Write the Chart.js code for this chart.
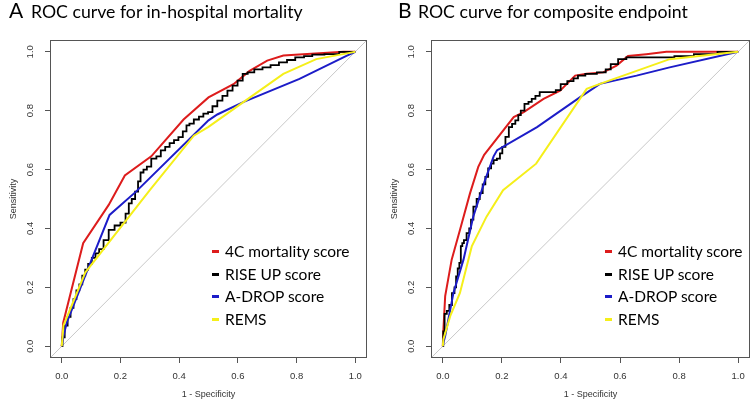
<!DOCTYPE html>
<html>
<head>
<meta charset="utf-8">
<script src="https://cdn.jsdelivr.net/npm/chart.js@4.4.1/dist/chart.umd.min.js"></script>
<style>
  html, body { margin: 0; padding: 0; background: #fff; }
  #wrap { position: relative; width: 756px; height: 408px; overflow: hidden; font-family: Lato, "Open Sans", sans-serif; }
  canvas { position: absolute; top: 0; }
  .letter, .title { position: absolute; white-space: nowrap; color: #000; line-height: 1; }
  .letter { font-size: 21px; top: -1px; }
  .title { font-size: 17.7px; top: 3px; }
  .legend { position: absolute; top: 242px; }
  .legend .row { position: relative; height: 22.7px; line-height: 18px; font-size: 15.5px; white-space: nowrap; color: #000; }
  .legend .dash { position: absolute; left: 0; top: 8px; width: 7px; height: 3px; }
  .legend .txt { position: absolute; left: 13px; top: 0; }
</style>
</head>
<body>
<div id="wrap">
  <canvas id="chartA" width="378" height="408" style="left:0"></canvas>
  <canvas id="chartB" width="375" height="408" style="left:381px"></canvas>
  <span class="letter" style="left:9px">A</span>
  <span class="title" style="left:31px">ROC curve for in-hospital mortality</span>
  <span class="letter" style="left:398px">B</span>
  <span class="title" style="left:418px">ROC curve for composite endpoint</span>
  <div class="legend" id="legendA" style="left:212px"></div>
  <div class="legend" id="legendB" style="left:605px"></div>
</div>
<script>
// series names and tick labels
const seriesLabels = ['4C mortality score', 'RISE UP score', 'A-DROP score', 'REMS'];
const tickValues = [0.0, 0.2, 0.4, 0.6, 0.8, 1.0];

// panel A: in-hospital mortality, [1 - specificity, sensitivity]
const a4C = [[0,0],[0.005,0.08],[0.073,0.35],[0.16,0.48],[0.215,0.58],[0.305,0.645],[0.415,0.77],
  [0.5,0.845],[0.585,0.89],[0.64,0.935],[0.7,0.97],[0.755,0.987],[0.85,0.993],[0.96,1],[1,1]];
const aRiseUp = [[0,0],[0.005,0.03],[0.015,0.07],[0.025,0.1],[0.035,0.13],[0.045,0.16],[0.055,0.19],
  [0.065,0.21],[0.075,0.24],[0.085,0.26],[0.095,0.28],[0.11,0.3],[0.12,0.315],[0.135,0.33],[0.15,0.36],
  [0.17,0.395],[0.19,0.41],[0.21,0.42],[0.225,0.45],[0.232,0.485],[0.245,0.5],[0.255,0.525],[0.265,0.56],
  [0.272,0.59],[0.285,0.6],[0.295,0.61],[0.315,0.637],[0.33,0.645],[0.345,0.665],[0.36,0.677],[0.375,0.69],
  [0.39,0.7],[0.405,0.71],[0.42,0.73],[0.43,0.75],[0.44,0.756],[0.46,0.77],[0.475,0.78],[0.49,0.79],
  [0.507,0.795],[0.52,0.815],[0.54,0.834],[0.555,0.85],[0.574,0.868],[0.59,0.885],[0.608,0.902],
  [0.625,0.925],[0.642,0.93],[0.67,0.94],[0.698,0.947],[0.725,0.955],[0.755,0.964],[0.78,0.972],
  [0.811,0.981],[0.84,0.985],[0.867,0.99],[0.923,0.992],[0.968,1],[1,1]];
const aADrop = [[0,0],[0.005,0.03],[0.017,0.08],[0.08,0.24],[0.163,0.446],[0.253,0.525],[0.5,0.767],
  [0.53,0.787],[0.62,0.83],[0.81,0.908],[0.97,0.986],[1,1]];
const aRems = [[0,0],[0.006,0.07],[0.08,0.25],[0.3,0.53],[0.45,0.715],[0.5,0.745],[0.62,0.83],
  [0.755,0.925],[0.867,0.975],[0.99,0.998],[1,1]];

// panel B: composite endpoint
const b4C = [[0,0],[0.002,0.057],[0.008,0.17],[0.03,0.294],[0.058,0.395],[0.092,0.519],[0.12,0.609],
  [0.14,0.65],[0.24,0.778],[0.274,0.795],[0.341,0.84],[0.397,0.868],[0.448,0.919],[0.487,0.925],
  [0.543,0.93],[0.588,0.953],[0.627,0.986],[0.689,0.992],[0.757,1],[1,1]];
const bRiseUp = [[0,0],[0.003,0.05],[0.009,0.11],[0.018,0.12],[0.026,0.14],[0.036,0.18],[0.043,0.2],
  [0.047,0.237],[0.054,0.264],[0.058,0.283],[0.064,0.34],[0.068,0.35],[0.075,0.36],[0.086,0.384],
  [0.093,0.4],[0.098,0.43],[0.109,0.474],[0.12,0.5],[0.13,0.52],[0.14,0.55],[0.148,0.575],[0.159,0.604],
  [0.168,0.62],[0.176,0.632],[0.19,0.637],[0.197,0.655],[0.206,0.677],[0.218,0.711],[0.229,0.744],
  [0.24,0.755],[0.251,0.767],[0.26,0.785],[0.268,0.8],[0.285,0.823],[0.295,0.83],[0.307,0.84],
  [0.32,0.85],[0.336,0.863],[0.375,0.863],[0.39,0.87],[0.408,0.89],[0.435,0.9],[0.45,0.91],[0.465,0.919],
  [0.5,0.925],[0.543,0.93],[0.56,0.94],[0.577,0.958],[0.61,0.975],[0.633,0.981],[0.768,0.981],
  [0.8,0.985],[0.9,0.992],[0.96,1],[1,1]];
const bADrop = [[0,0],[0.003,0.016],[0.008,0.035],[0.036,0.181],[0.07,0.294],[0.103,0.44],[0.143,0.564],
  [0.172,0.645],[0.184,0.666],[0.319,0.744],[0.465,0.846],[0.532,0.891],[0.656,0.919],[0.768,0.947],[1,1]];
const bRems = [[0,0],[0.002,0.024],[0.025,0.102],[0.058,0.181],[0.098,0.339],[0.148,0.44],[0.204,0.53],
  [0.316,0.62],[0.487,0.874],[0.532,0.891],[0.768,0.975],[1,1]];

const diagonal = [[-0.04,-0.04],[1.04,1.04]];

const lineColors = ['#dd1c1c', '#000000', '#1c1cc8', '#f5ef1a'];

function toPoints(pairs) {
    return pairs.map(p => ({x: p[0], y: p[1]}));
}

// R style frame around the plot region
const boxPlugin = {
    id: 'box',
    afterDraw(chart) {
        const a = chart.chartArea;
        const ctx = chart.ctx;
        ctx.save();
        ctx.strokeStyle = '#555';
        ctx.lineWidth = 1;
        ctx.strokeRect(a.left + 0.5, a.top + 0.5, a.right - a.left - 1, a.bottom - a.top - 1);
        ctx.restore();
    }
};

function makeChart(id, series, rightPad) {
    const datasets = series.map((s, i) => ({
        label: seriesLabels[i],
        data: toPoints(s),
        borderColor: lineColors[i],
        borderWidth: i === 1 ? 1.8 : 2,
        pointRadius: 0,
        tension: 0,
        stepped: i === 1 ? 'middle' : false,
        order: 4 - i
    }));
    datasets.push({
        label: 'reference',
        data: toPoints(diagonal),
        borderColor: '#c8c8c8',
        borderWidth: 1,
        pointRadius: 0,
        order: 10
    });

    const tickFont = {family: 'Liberation Sans', size: 9.5};
    const gridStyle = {drawOnChartArea: false, drawTicks: true, tickLength: 5, color: '#555', tickColor: '#555'};

    return new Chart(document.getElementById(id), {
        type: 'line',
        data: {datasets: datasets},
        options: {
            responsive: false,
            animation: false,
            devicePixelRatio: 1,
            layout: {padding: {top: 40, right: rightPad, left: 0, bottom: 0}},
            plugins: {legend: {display: false}, tooltip: {enabled: false}},
            scales: {
                x: {
                    type: 'linear',
                    min: -0.04,
                    max: 1.04,
                    afterBuildTicks: scale => { scale.ticks = tickValues.map(v => ({value: v})); },
                    afterFit: scale => { scale.height = 50; },
                    grid: gridStyle,
                    border: {display: false},
                    ticks: {
                        font: tickFont, color: '#333', padding: 8, maxRotation: 0,
                        callback: v => v.toFixed(1)
                    },
                    title: {
                        display: true, text: '1 - Specificity', color: '#333',
                        font: {family: 'Liberation Sans', size: 9}, padding: {top: 0, bottom: 8.5}
                    }
                },
                y: {
                    type: 'linear',
                    min: -0.04,
                    max: 1.04,
                    afterBuildTicks: scale => { scale.ticks = tickValues.map(v => ({value: v})); },
                    afterFit: scale => { scale.width = 50; },
                    grid: gridStyle,
                    border: {display: false},
                    ticks: {
                        font: tickFont, color: '#333', padding: 8, minRotation: 90, maxRotation: 90,
                        crossAlign: 'center',
                        callback: v => v.toFixed(1)
                    },
                    title: {
                        display: true, text: 'Sensitivity', color: '#333',
                        font: {family: 'Liberation Sans', size: 9}, padding: {top: 8.5, bottom: 0}
                    }
                }
            }
        },
        plugins: [boxPlugin]
    });
}

function buildLegend(id) {
    const box = document.getElementById(id);
    seriesLabels.forEach((label, i) => {
        const row = document.createElement('div');
        row.className = 'row';
        row.innerHTML = '<span class="dash" style="background:' + lineColors[i] + '"></span>' +
            '<span class="txt">' + label + '</span>';
        box.appendChild(row);
    });
}

makeChart('chartA', [a4C, aRiseUp, aADrop, aRems], 11);
makeChart('chartB', [b4C, bRiseUp, bADrop, bRems], 6);
buildLegend('legendA');
buildLegend('legendB');
</script>
</body>
</html>
